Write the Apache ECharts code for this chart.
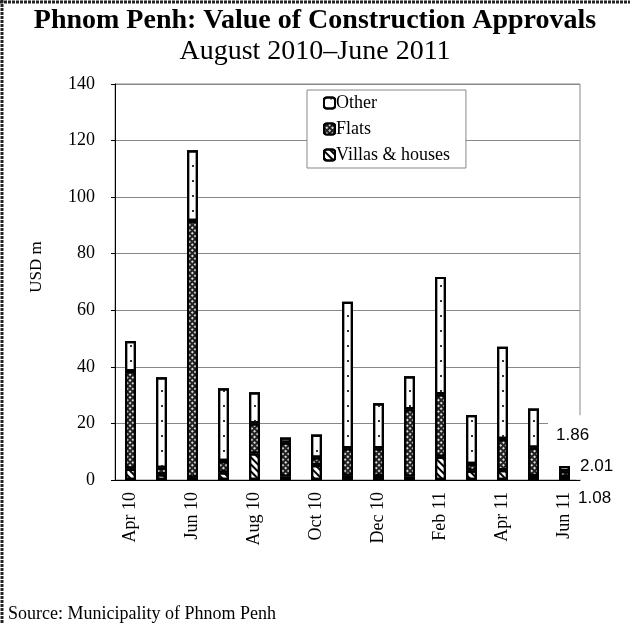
<!DOCTYPE html>
<html>
<head>
<meta charset="utf-8">
<style>
  html, body { margin: 0; padding: 0; background: #fff; }
  #chart { width: 630px; height: 624px; }
</style>
<script src="https://cdn.jsdelivr.net/npm/echarts@6/dist/echarts.min.js"></script>
</head>
<body>
<div id="chart"></div>
<script>
// monthly approvals, USD m
const months = ['Apr 10', 'May 10', 'Jun 10', 'Jul 10', 'Aug 10', 'Sep 10', 'Oct 10', 'Nov 10',
  'Dec 10', 'Jan 11', 'Feb 11', 'Mar 11', 'Apr 11', 'May 11', 'Jun 11'];
const villas = [4, 2, 0.8, 2.7, 9.4, 1.2, 5.3, 1.5, 1.4, 1.2, 8.2, 3.3, 3.5, 1.4, 1.08];
const flats = [34.5, 2.3, 90.8, 4, 10.6, 12, 2.6, 9.7, 9.8, 23.8, 22.1, 2.4, 11, 10, 2.01];
const other = [10.6, 32, 25, 25.7, 11, 1.8, 8.2, 51.8, 15.9, 11.7, 41.5, 17.3, 32.6, 13.9, 1.86];

const serif = 'Liberation Serif';
const sans = 'Liberation Sans';
const last = months.length - 1;

// label only the last (Jun 11) bar, like the original
function withLastLabel(values, label) {
  return values.map((v, i) => i === last ? { value: v, label: label } : v);
}

const lastLabelBase = {
  show: true,
  position: 'right',
  formatter: '{c}',
  fontFamily: sans,
  fontSize: 17,
  color: '#000'
};

const chart = echarts.init(document.getElementById('chart'));

const option = {
  animation: false,
  backgroundColor: '#fff',
  title: [
    {
      text: 'Phnom Penh: Value of Construction Approvals',
      left: 'center',
      top: 2,
      textStyle: { fontFamily: serif, fontWeight: 'bold', fontSize: 28, color: '#000' }
    },
    {
      text: 'August 2010\u2013June 2011',
      left: 'center',
      top: 33,
      textStyle: { fontFamily: serif, fontWeight: 'normal', fontSize: 28, color: '#000' }
    },
    {
      text: 'Source: Municipality of Phnom Penh',
      left: 3,
      top: 600,
      textStyle: { fontFamily: serif, fontWeight: 'normal', fontSize: 18, color: '#000' }
    }
  ],
  legend: {
    data: ['Other', 'Flats', 'Villas & houses'],
    orient: 'vertical',
    left: 307,
    top: 90,
    padding: [4, 16, 4, 16],
    itemGap: 8,
    itemWidth: 11,
    itemHeight: 11,
    borderColor: '#888',
    borderWidth: 1,
    backgroundColor: '#fff',
    textStyle: { fontFamily: serif, fontSize: 18, color: '#000', padding: [0, 0, 0, -4] }
  },
  grid: {
    left: 115,
    right: 50,
    top: 84,
    bottom: 144,
    show: true,
    borderColor: '#888',
    borderWidth: 1
  },
  xAxis: {
    type: 'category',
    data: months,
    boundaryGap: true,
    axisLine: { lineStyle: { color: '#000', width: 1 } },
    axisTick: { interval: 1, length: 5, lineStyle: { color: '#000' } },
    axisLabel: {
      interval: 1,
      rotate: 90,
      margin: 12,
      fontFamily: serif,
      fontSize: 18,
      color: '#000'
    }
  },
  yAxis: {
    type: 'value',
    min: 0,
    max: 140,
    interval: 20,
    name: 'USD m',
    nameLocation: 'middle',
    nameRotate: 90,
    nameGap: 70,
    nameTextStyle: { fontFamily: serif, fontSize: 17, color: '#000', padding: [0, 0, 0, 30] },
    axisLine: { show: true, lineStyle: { color: '#000', width: 1 } },
    axisTick: { show: true, length: 4, lineStyle: { color: '#000' } },
    axisLabel: { margin: 20, fontFamily: serif, fontSize: 18, color: '#000' },
    splitLine: { lineStyle: { color: '#888', width: 1 } }
  },
  series: [
    {
      name: 'Villas & houses',
      type: 'bar',
      stack: 'total',
      barWidth: 11,
      data: withLastLabel(villas, Object.assign({}, lastLabelBase, { offset: [3, 20] })),
      itemStyle: {
        color: '#fff',
        borderColor: '#000',
        borderWidth: 2.2,
        decal: {
          symbol: 'rect',
          symbolSize: 1,
          color: '#000',
          dashArrayX: [1, 0],
          dashArrayY: [2, 3],
          rotation: Math.PI / 4
        }
      }
    },
    {
      name: 'Flats',
      type: 'bar',
      stack: 'total',
      barWidth: 11,
      data: withLastLabel(flats, Object.assign({}, lastLabelBase, {
        offset: [1, -8], backgroundColor: '#fff', padding: [6, 4, 4, 4]
      })),
      itemStyle: {
        color: '#222',
        borderColor: '#000',
        borderWidth: 2.2,
        decal: {
          symbol: 'rect',
          symbolSize: 1,
          color: '#ddd',
          dashArrayX: [2, 2],
          dashArrayY: [2, 2],
          rotation: Math.PI / 4
        }
      }
    },
    {
      name: 'Other',
      type: 'bar',
      stack: 'total',
      barWidth: 11,
      data: withLastLabel(other, Object.assign({}, lastLabelBase, {
        offset: [-27, -33], backgroundColor: '#fff', padding: [14, 10, 10, 8]
      })),
      itemStyle: {
        color: '#fff',
        borderColor: '#000',
        borderWidth: 2.2,
        decal: {
          symbol: 'rect',
          symbolSize: 1,
          color: '#333',
          dashArrayX: [[0, 6, 2, 23]],
          dashArrayY: [2, 13]
        }
      }
    }
  ],
  graphic: [
    {
      type: 'line',
      shape: { x1: 2, y1: 0, x2: 2, y2: 624 },
      style: { stroke: '#222', lineWidth: 3, lineDash: [3, 1] }
    },
    {
      type: 'line',
      shape: { x1: 0, y1: 2, x2: 630, y2: 2 },
      style: { stroke: '#222', lineWidth: 3, lineDash: [3, 1] }
    }
  ]
};

chart.setOption(option);
</script>
</body>
</html>
